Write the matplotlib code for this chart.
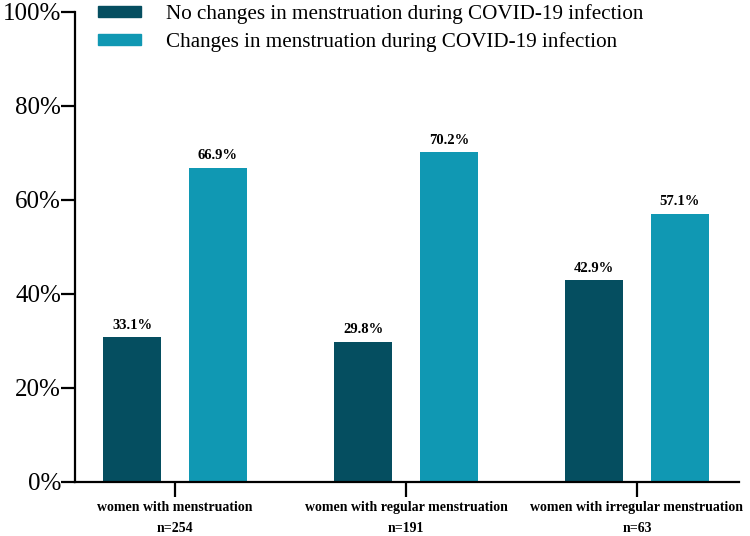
import matplotlib
matplotlib.use("Agg")
import matplotlib.pyplot as plt
import numpy as np
from matplotlib.patches import Patch

categories = ["women with menstruation\nn=254",
              "women with regular menstruation\nn=191",
              "women with irregular menstruation\nn=63"]
series_names = ["No changes in menstruation during COVID-19 infection",
                "Changes in menstruation during COVID-19 infection"]
no_change = [30.8, 29.8, 42.9]
change = [66.9, 70.2, 57.1]
no_change_labels = ["33.1%", "29.8%", "42.9%"]
change_labels = ["66.9%", "70.2%", "57.1%"]
yticks = [0, 20, 40, 60, 80, 100]
ytick_labels = ["0%", "20%", "40%", "60%", "80%", "100%"]

colors = ["#054E60", "#1098B3"]

plt.rcParams['font.family'] = ['Liberation Serif', 'DejaVu Serif']

fig = plt.figure(figsize=(7.5, 5.36), dpi=100)
ax = fig.add_axes([75/750, 1-482/536, (739-75)/750, (482-12)/536])

x = np.arange(len(categories))
w = 0.251
off = 0.186
b1 = ax.bar(x - off, no_change, w, color=colors[0])
b2 = ax.bar(x + off, change, w, color=colors[1])

for bars, labs in ((b1, no_change_labels), (b2, change_labels)):
    for rect, lab in zip(bars, labs):
        ax.annotate(lab, (rect.get_x() + rect.get_width()/2, rect.get_height()),
                    xytext=(0, 4), textcoords="offset points", ha="center", va="bottom",
                    fontsize=10.5, fontweight="bold")

ax.set_xlim(-0.433, 2.442)
ax.set_ylim(0, 100)
ax.set_yticks(yticks)
ax.set_yticklabels(ytick_labels, fontsize=18)
ax.set_xticks(x)
ax.set_xticklabels(categories, fontsize=10, fontweight="bold", linespacing=1.75)
for s in ("top", "right"):
    ax.spines[s].set_visible(False)
for s in ("left", "bottom"):
    ax.spines[s].set_linewidth(1.6)
ax.tick_params(axis="y", length=10, width=1.6, pad=0)
ax.tick_params(axis="x", length=11, width=1.6, pad=3)

handles = [Patch(color=colors[0]), Patch(color=colors[1])]
fig.legend(handles, series_names, loc="upper left", bbox_to_anchor=(79/750, 1.027),
           frameon=False, fontsize=15.2, handlelength=2.03, handleheight=0.43,
           handletextpad=1.18, labelspacing=0.36)

fig.savefig("out.png", dpi=100)
